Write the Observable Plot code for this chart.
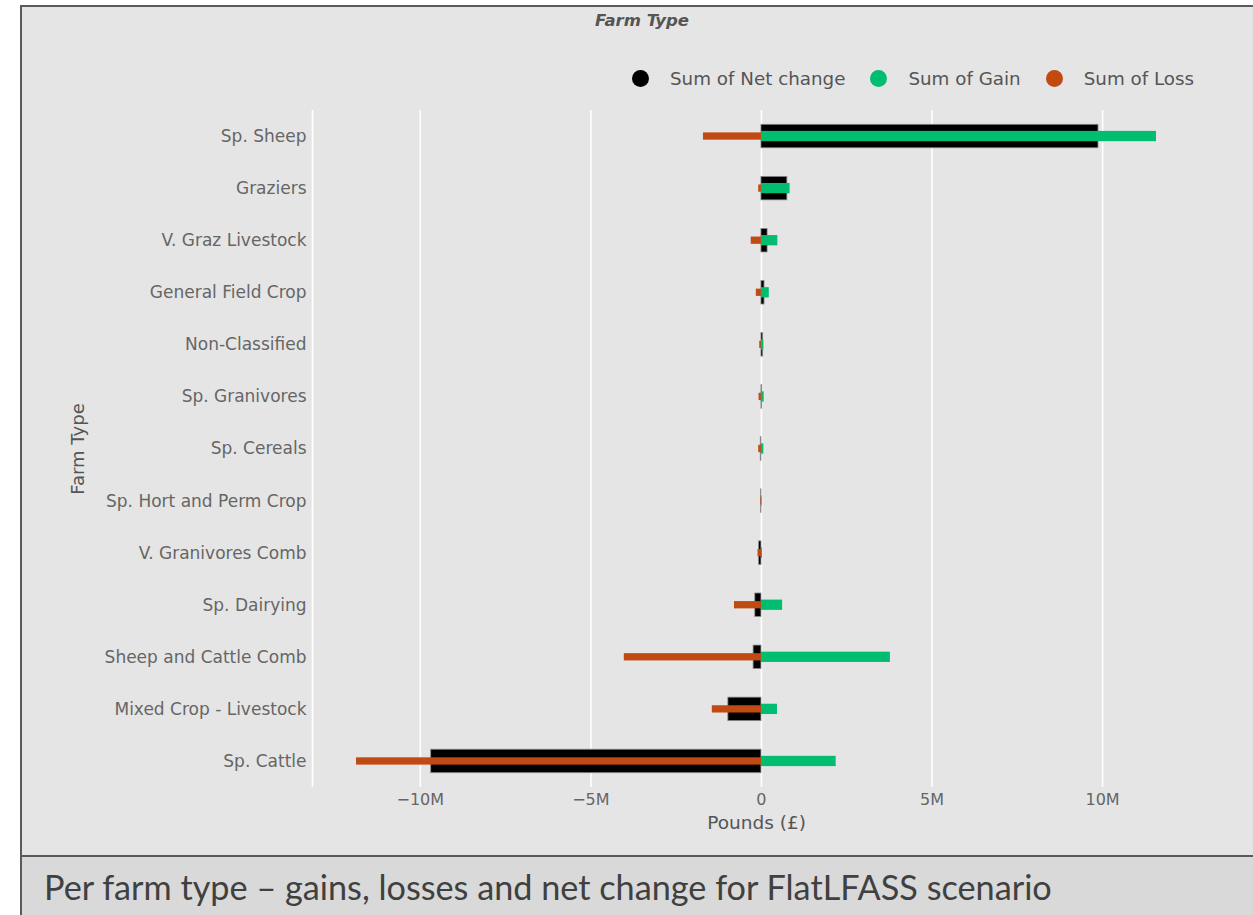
<!DOCTYPE html>
<html><head><meta charset="utf-8">
<script src="https://cdn.jsdelivr.net/npm/d3@7"></script>
<script src="https://cdn.jsdelivr.net/npm/@observablehq/plot@0.6"></script>
<style>
body{margin:0;background:#fff;font-family:"DejaVu Sans",sans-serif;}
#fig{position:relative;width:1253px;height:915px;overflow:hidden;background:#fff;}
#panel{position:absolute;left:20px;top:5px;width:1260px;height:848px;background:#e5e5e5;border:2px solid #5a5a5a;border-right:none;}
#caption{position:absolute;left:20px;top:857px;width:1260px;height:60px;background:#d9d9d9;border-left:2px solid #5a5a5a;}
#captext{position:absolute;left:22px;top:13px;white-space:nowrap;font-family:Lato,"Open Sans",sans-serif;font-size:29px;color:#404040;line-height:34px;}
#title{position:absolute;left:0;top:12px;width:1284px;text-align:center;font-weight:bold;font-style:italic;font-size:16.5px;line-height:18px;color:#555;}
#legend{position:absolute;left:632px;top:67px;display:flex;align-items:center;height:22px;font-size:18.3px;color:#555;}
.item{display:flex;align-items:center;margin-right:25px;}
.dot{width:17px;height:17px;border-radius:50%;margin-right:21px;}
#chart{position:absolute;left:0;top:100px;}
</style></head>
<body>
<div id="fig">
  <div id="panel"></div>
  <div id="title">Farm Type</div>
  <div id="legend"></div>
  <div id="chart"></div>
  <div id="caption"><div id="captext">Per farm type – gains, losses and net change for FlatLFASS scenario</div></div>
</div>
<script>
const categories = ["Sp. Sheep","Graziers","V. Graz Livestock","General Field Crop","Non-Classified","Sp. Granivores","Sp. Cereals","Sp. Hort and Perm Crop","V. Granivores Comb","Sp. Dairying","Sheep and Cattle Comb","Mixed Crop - Livestock","Sp. Cattle"];
// values in £ millions
const netChange = [9.88, 0.76, 0.18, 0.09, 0.05, 0.02, -0.02, -0.01, -0.07, -0.18, -0.23, -0.97, -9.68];
const gain      = [11.58, 0.84, 0.48, 0.23, 0.07, 0.08, 0.07, 0.02, 0.03, 0.62, 3.78, 0.47, 2.19];
const loss      = [-1.70, -0.08, -0.30, -0.15, -0.05, -0.07, -0.08, -0.02, -0.10, -0.79, -4.02, -1.44, -11.87];
const seriesNames = ["Sum of Net change","Sum of Gain","Sum of Loss"];
const seriesColors = ["#000000","#00bd70","#c14a12"];
const xTicks = [-10, -5, 0, 5, 10];

const rows = categories.map((c, i) => ({cat: c, net: netChange[i], gain: gain[i], loss: loss[i]}));

const legend = document.getElementById("legend");
seriesNames.forEach((n, i) => {
  const it = document.createElement("div"); it.className = "item";
  const d = document.createElement("div"); d.className = "dot"; d.style.background = seriesColors[i];
  const t = document.createElement("span"); t.textContent = n;
  it.appendChild(d); it.appendChild(t); legend.appendChild(it);
});

const xDomain = [-13.16, 12.87];
const fmt = d => d === 0 ? "0" : (d < 0 ? "\u2212" : "") + Math.abs(d) + "M";

const plot = Plot.plot({
  width: 1253, height: 750,
  marginLeft: 312, marginRight: 53, marginTop: 10, marginBottom: 63,
  style: {background: "transparent", color: "#666", fontFamily: "DejaVu Sans", fontSize: "17px"},
  x: {domain: xDomain, label: null},
  y: {domain: categories, padding: 0, round: false, label: null},
  marks: [
    Plot.gridX(xTicks, {stroke: "white", strokeOpacity: 1, strokeWidth: 1.6}),
    Plot.ruleX([xDomain[0]], {stroke: "white", strokeOpacity: 1, strokeWidth: 1.6}),
    Plot.barX(rows, {x: "net", y: "cat", fill: seriesColors[0], stroke: "#8a8a8a", strokeWidth: 0.8, insetTop: 14.3, insetBottom: 14.3}),
    Plot.barX(rows, {x: "gain", y: "cat", fill: seriesColors[1], insetTop: 20.9, insetBottom: 20.9}),
    Plot.barX(rows, {x: "loss", y: "cat", fill: seriesColors[2], insetTop: 22.4, insetBottom: 22.4}),
    Plot.axisX({ticks: xTicks, tickFormat: fmt, tickSize: 0, tickPadding: 6, fontSize: 16, label: null}),
    Plot.axisY({tickSize: 0, tickPadding: 6, fontSize: 17, label: null}),
    Plot.text(["Pounds (£)"], {text: d => d, frameAnchor: "bottom", dy: 41, fontSize: 18.5, fill: "#555"}),
    Plot.text(["Farm Type"], {text: d => d, frameAnchor: "left", textAnchor: "middle", dx: -234, rotate: -90, fontSize: 18, fill: "#555"})
  ]
});
document.getElementById("chart").appendChild(plot);

// fit caption width to reference
const ct = document.getElementById("captext");
const w = ct.getBoundingClientRect().width;
ct.style.fontSize = (29 * 1008 / w) + "px";
</script>
</body></html>
